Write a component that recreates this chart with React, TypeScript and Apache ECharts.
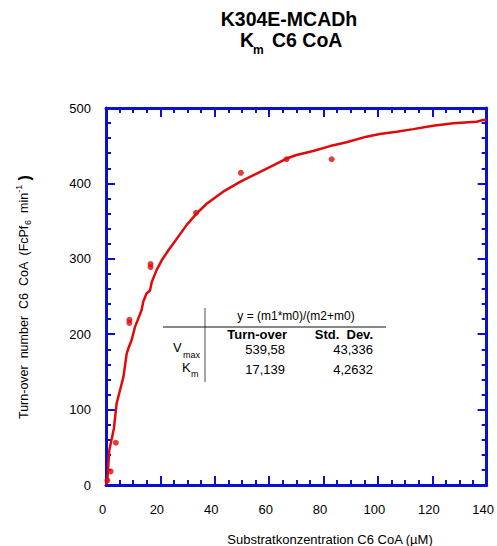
import React, { useEffect, useRef } from "react";
import * as echarts from "echarts";

// ---- data ----
const curveX = [0, 0.5, 1.2, 2.1, 2.9, 3.9, 5.1, 6.4, 7.6, 8.2, 9.4, 10.7, 11.9, 13.1, 13.7, 14.9, 16.2, 16.8, 18.6, 20.5, 22.9, 24.7, 29.7, 33.3, 37, 43.1, 49.3, 55.4, 61.5, 66.4, 70.1, 76.2, 82.4, 88.5, 95.8, 100.7, 106.9, 113, 120.3, 127.7, 136.3, 138.7, 140];
const curveY = [0, 6, 46, 61, 75, 108, 125, 143, 174, 181, 192, 210, 221, 232, 243, 254, 258, 269, 285, 298, 311, 320, 345, 360, 373, 389, 402, 413, 424, 433, 437.6, 443, 449.5, 454.5, 462, 465.5, 468.5, 472, 476.5, 479.7, 481.8, 484, 484];
const pointX = [0.5, 1.7, 3.6, 8.6, 8.6, 16.4, 16.4, 33.1, 49.6, 66.4, 83];
const pointY = [6, 18, 56, 215, 219, 289, 293, 361, 414, 432, 432];

const xMin = 0, xMax = 140, xStep = 20;
const yMin = 0, yMax = 500, yStep = 100;

const titleLine1 = "K304E-MCADh";
const xName = "Substratkonzentration C6 CoA (µM)";
const yNameParts = ["Turn-over  number  C6  CoA  (FcPf", "6", "  min", "-1", " )"];
const fitEquation = "y = (m1*m0)/(m2+m0)";
const tableHeaders = ["Turn-over", "Std.  Dev."];
const rowValues = ["539,58", "17,139"];
const rowErrors = ["43,336", "4,2632"];

const BLUE = "#0a0fd6";
const RED = "#e00a0a";
const FF = '"Liberation Sans", Arial, Helvetica, sans-serif';

function measure(text: string, size: number, weight = "normal") {
  const c = document.createElement("canvas").getContext("2d")!;
  c.font = `${weight} ${size}px "Liberation Sans"`;
  return c.measureText(text).width;
}

function txt(text: string, x: number, y: number, size: number, opts: any = {}) {
  return {
    type: "text",
    x,
    y,
    silent: true,
    style: {
      text,
      fill: "#000",
      fontSize: size,
      fontFamily: FF,
      fontWeight: opts.weight || "normal",
      align: opts.align || "left",
      textAlign: opts.align || "left",
      verticalAlign: "middle",
      textVerticalAlign: "middle",
    },
  };
}

export default function App() {
  const ref = useRef<HTMLDivElement>(null);
  useEffect(() => {
    document.body.style.margin = "0";
    const chart = echarts.init(ref.current!, undefined, { renderer: "svg" });

    const axisCommon = {
      type: "value",
      splitLine: { show: false },
      axisLine: { show: true, onZero: false, lineStyle: { color: BLUE, width: 3 } },
      axisTick: { show: true, inside: true, length: 9, lineStyle: { color: BLUE, width: 2 } },
    };

    // rotated y-axis title pieces
    const ySizes = [12.5, 9, 12.5, 9, 16];
    const yWeights = ["normal", "normal", "normal", "normal", "bold"];
    const yOffsets = [0, 4, 0, -5, 0];
    let cx = 0;
    const yChildren: any[] = [];
    yNameParts.forEach((p, i) => {
      yChildren.push(txt(p, cx, yOffsets[i], ySizes[i], { weight: yWeights[i] }));
      cx += measure(p, ySizes[i], yWeights[i]);
    });

    chart.setOption({
      animation: false,
      grid: { left: 106, right: 10, top: 108, bottom: 61 },
      xAxis: [
        {
          ...axisCommon,
          min: xMin,
          max: xMax,
          interval: xStep,
          position: "bottom",
          minorTick: { show: true, splitNumber: 4, length: 5, lineStyle: { color: BLUE, width: 2 } },
          axisLabel: { color: "#000", fontSize: 13, fontFamily: FF, margin: 18, padding: [0, 7, 0, 0] },
        },
        {
          ...axisCommon,
          min: xMin,
          max: xMax,
          interval: xStep,
          position: "top",
          minorTick: { show: true, splitNumber: 4, length: 5, lineStyle: { color: BLUE, width: 2 } },
          axisLabel: { show: false },
        },
      ],
      yAxis: [
        {
          ...axisCommon,
          min: yMin,
          max: yMax,
          interval: yStep,
          position: "left",
          minorTick: { show: true, splitNumber: 5, length: 5, lineStyle: { color: BLUE, width: 2 } },
          axisLabel: { color: "#000", fontSize: 13, fontFamily: FF, margin: 15, padding: [0, 0, 4, 0] },
        },
        {
          ...axisCommon,
          min: yMin,
          max: yMax,
          interval: yStep,
          position: "right",
          minorTick: { show: true, splitNumber: 5, length: 5, lineStyle: { color: BLUE, width: 2 } },
          axisLabel: { show: false },
        },
      ],
      series: [
        {
          type: "line",
          data: curveX.map((x, i) => [x, curveY[i]]),
          showSymbol: false,
          symbol: "none",
          lineStyle: { color: RED, width: 2.5 },
          z: 3,
        },
        {
          type: "scatter",
          data: pointX.map((x, i) => [x, pointY[i]]),
          symbolSize: 6,
          itemStyle: { color: RED },
          z: 4,
        },
      ],
      graphic: [
        txt(titleLine1, 289, 19, 19.5, { weight: "bold", align: "center" }),
        txt("K", 240, 40, 19.5, { weight: "bold" }),
        txt("m", 253, 50, 12, { weight: "bold" }),
        txt("C6 CoA", 272, 40, 19.5, { weight: "bold" }),
        txt(xName, 330, 539, 13, { align: "center" }),
        { type: "group", x: 24, y: 419, rotation: Math.PI / 2, children: yChildren },
        // fit table
        { type: "line", shape: { x1: 205, y1: 308, x2: 205, y2: 382 }, style: { stroke: "#888", lineWidth: 1.5 }, silent: true },
        { type: "line", shape: { x1: 163, y1: 327, x2: 386, y2: 327 }, style: { stroke: "#111", lineWidth: 1.2 }, silent: true },
        txt(fitEquation, 296, 316, 12, { align: "center" }),
        txt(tableHeaders[0], 287, 334, 13, { weight: "bold", align: "right" }),
        txt(tableHeaders[1], 373, 334, 13, { weight: "bold", align: "right" }),
        txt("V", 173, 347.5, 13),
        txt("max", 183, 354.5, 9),
        txt(rowValues[0], 285, 349, 13, { align: "right" }),
        txt(rowErrors[0], 373, 349, 13, { align: "right" }),
        txt("K", 182, 367, 13),
        txt("m", 191, 374, 9),
        txt(rowValues[1], 285, 369, 13, { align: "right" }),
        txt(rowErrors[1], 373, 369, 13, { align: "right" }),
      ],
    });
    return () => chart.dispose();
  }, []);
  return <div ref={ref} style={{ width: 497, height: 546 }} />;
}
